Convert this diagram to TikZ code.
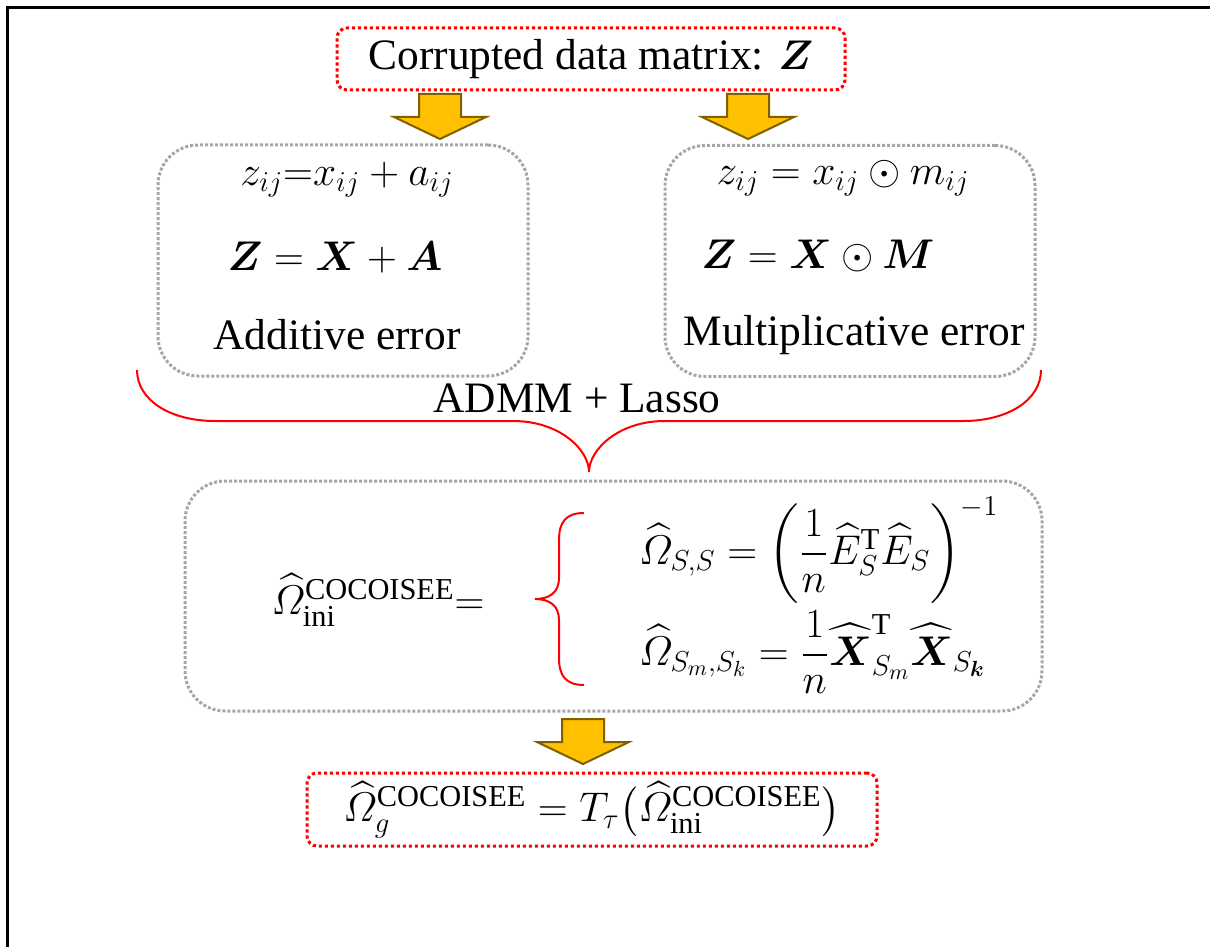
\documentclass[tikz,border=0pt]{standalone}
\usepackage{amsmath}
\usepackage{fontspec}
\setmainfont{Liberation Serif}
\usetikzlibrary{positioning,calc}
\definecolor{arrowgold}{HTML}{FFC000}
\definecolor{arrowedge}{HTML}{7F6000}
\definecolor{dotgray}{HTML}{A6A6A6}
\newcommand{\OmHat}{\widehat{\varOmega}}
\newcommand{\CocoSup}{\mathrm{COCOISEE}}
\newcommand{\CorruptText}{Corrupted data matrix: $\boldsymbol{Z}$}
\newcommand{\AddElem}{$z_{ij}{=}x_{ij}+a_{ij}$}
\newcommand{\AddMat}{$\boldsymbol{Z}=\boldsymbol{X}+\boldsymbol{A}$}
\newcommand{\MultElem}{$z_{ij}=x_{ij}\odot m_{ij}$}
\newcommand{\MultMat}{$\boldsymbol{Z}=\boldsymbol{X}\odot\boldsymbol{M}$}
\newcommand{\InitTerm}{$\OmHat_{\mathrm{ini}}^{\CocoSup}{=}$}
\newcommand{\BlockSS}{$\OmHat_{S,S}=\left(\dfrac{1}{n}\widehat{E}_S^{\mathrm{T}}\widehat{E}_S\right)^{-1}$}
\newcommand{\BlockMK}{$\OmHat_{S_m,S_k}=\dfrac{1}{n}\widehat{\boldsymbol{X}}_{S_m}^{\mathrm{T}}\widehat{\boldsymbol{X}}_{S_{\boldsymbol{k}}}$}
\newcommand{\FinalTerm}{$\OmHat_g^{\CocoSup}=T_\tau\bigl(\OmHat_{\mathrm{ini}}^{\CocoSup}\bigr)$}
\def\SideBoxWidth{185pt}
\def\SideBoxHeight{115.5pt}
\tikzset{
  every node/.style={font=\fontsize{21.7pt}{26pt}\selectfont},
  redbox/.style={
    rectangle,
    draw=red,
    line width=1.5pt,
    dash pattern=on 1.6pt off 1.4pt,
    rounded corners=5pt
  },
  graybox/.style={
    rectangle,
    draw=dotgray,
    line width=1.5pt,
    dash pattern=on 1.5pt off 1pt,
    rounded corners=20pt
  },
  bracket/.style={draw=red,line width=1pt},
  frameline/.style={draw=black,line width=1.5pt},
  blockarrow/.pic={
    \draw[fill=arrowgold,draw=arrowedge,line width=1pt,line join=miter]
      (-21,0) -- (21,0) -- (21,23) -- (46,23) -- (0,45) -- (-46,23) -- (-21,23) -- cycle;
  }
}
\begin{document}
\begin{tikzpicture}[x=0.5pt,y=-0.5pt]
  \useasboundingbox (0,0) rectangle (1210,947);
  \draw[frameline] (7.5,947) -- (7.5,8) -- (1210,8);

  \node[redbox,minimum width=254pt,minimum height=31pt] (corrupt) at (591,59) {\CorruptText};

  \pic (arrleft) at (440,94) {blockarrow};
  \pic (arrright) at (748,94) {blockarrow};

  % Two error models side by side.
  \node[graybox,minimum width=\SideBoxWidth,minimum height=\SideBoxHeight] (addbox) at (343,260.5) {};
  \node (addelem) at (347,180) {\AddElem};
  \node (addmat) at (335,258) {\AddMat};
  \node (addname) at (337,335) {Additive error};

  \node[graybox,minimum width=\SideBoxWidth,minimum height=\SideBoxHeight] (multbox) at (850,261) {};
  \node (multelem) at (843,178) {\MultElem};
  \node (multmat) at (818,256) {\MultMat};
  \node (multname) at (854,335) {Multiplicative error};

  \draw[bracket] (137,370) .. controls (137,400) and (170,421) .. (215,421) -- (513,421)
    .. controls (560,421) and (589,450) .. (589,472)
    .. controls (589,450) and (618,421) .. (665,421) -- (963,421)
    .. controls (1008,421) and (1041,400) .. (1041,370);
  \node (solver) at (577,398) {ADMM + Lasso};

  \node[graybox,minimum width=428.5pt,minimum height=115pt] (initbox) at (613.5,596) {};
  \node (initterm) at (378,600) {\InitTerm};
  \draw[bracket] (584,513) .. controls (566,513) and (559,522) .. (559,540) -- (559,578)
    .. controls (559,592) and (550,599) .. (535,599)
    .. controls (550,599) and (559,606) .. (559,620) -- (559,658)
    .. controls (559,676) and (566,685) .. (584,685);
  \node[anchor=west] (blockss) at (632,550) {\BlockSS};
  \node[anchor=west] (blockmk) at (632,652) {\BlockMK};

  \pic (arrdown) at (583,719) {blockarrow};

  \node[redbox,minimum width=285pt,minimum height=36.5pt] (finalbox) at (592,809.5) {\FinalTerm};
\end{tikzpicture}
\end{document}
